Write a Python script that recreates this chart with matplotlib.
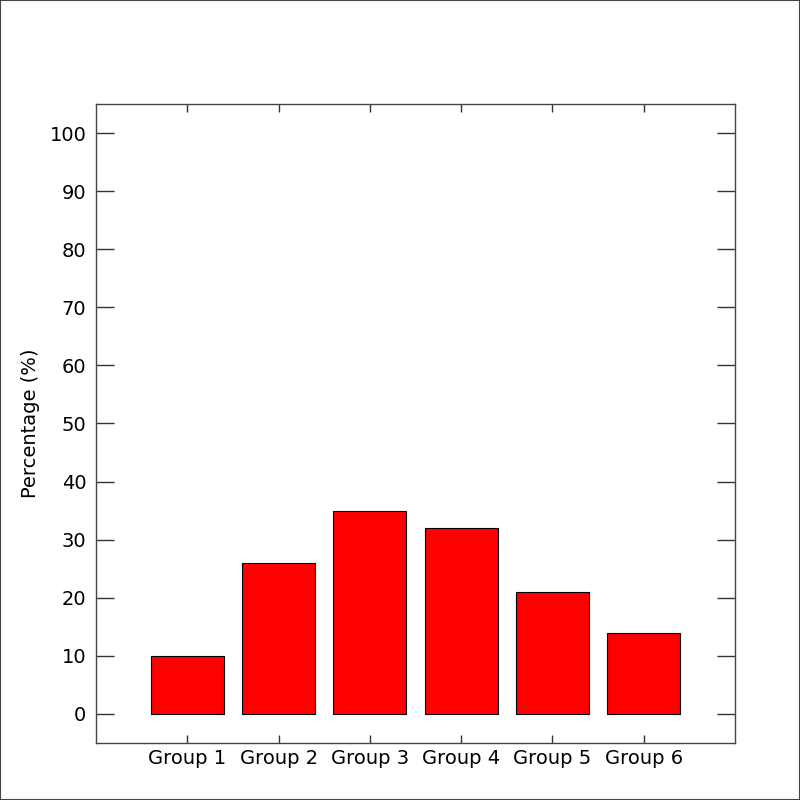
import matplotlib
matplotlib.use("Agg")
import matplotlib.pyplot as plt
from matplotlib.patches import Rectangle

categories = ["Group 1", "Group 2", "Group 3", "Group 4", "Group 5", "Group 6"]
values = [10, 26, 35, 32, 21, 14]
yticks = [0, 10, 20, 30, 40, 50, 60, 70, 80, 90, 100]

fig = plt.figure(figsize=(8, 8), dpi=100)
fig.patches.append(Rectangle((0, 0), 1, 1, transform=fig.transFigure,
                             fill=False, edgecolor="#444444", linewidth=1.5))
ax = fig.add_axes([96/800, 1 - 743/800, 639/800, 639/800])
x = list(range(1, len(categories) + 1))
ax.bar(x, values, width=0.8, color="#ff0000", edgecolor="black", linewidth=0.8)
ax.set_xlim(0, 7)
ax.set_ylim(-5, 105)
ax.set_xticks(x)
ax.set_xticklabels(categories)
ax.set_yticks(yticks)
ax.tick_params(axis="y", direction="in", length=13, width=1, color="#333333",
               right=True, labelsize=14, pad=7)
ax.tick_params(axis="x", direction="in", length=6, width=1, color="#333333",
               top=True, labelsize=14, pad=4)
for s in ax.spines.values():
    s.set_color("#444444")
    s.set_linewidth(1)
ax.set_ylabel("Percentage (%)", fontsize=14, labelpad=7)
fig.savefig("out.png", dpi=100)
